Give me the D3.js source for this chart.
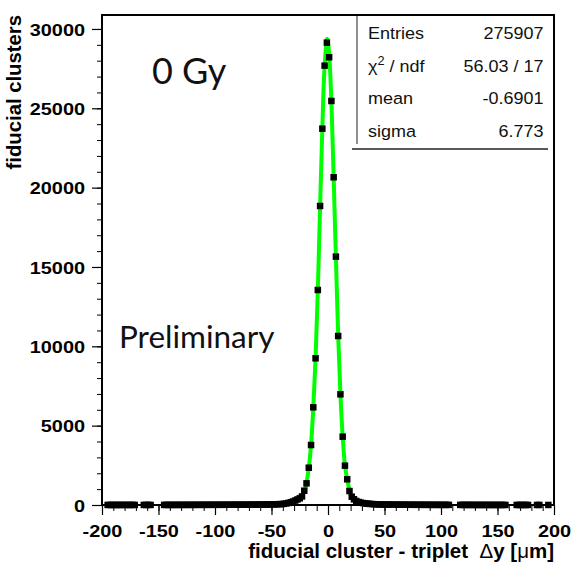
<!DOCTYPE html>
<html>
<head>
<meta charset="utf-8">
<script src="https://cdn.jsdelivr.net/npm/d3@7"></script>
<style>
  html, body { margin: 0; padding: 0; background: #fff; }
  svg { display: block; }
</style>
</head>
<body>
<svg id="chart"></svg>
<script>
// Histogram: 200 bins of 2 um from -200 to 200, counts
const binCenters = d3.range(-199, 200, 2);
const counts = [
  0, 0, 4, 3, 5, 4, 3, 5, 4, 6,
  4, 5, 3, 6, 4, 0, 0, 0, 5, 4,
  6, 5, 0, 0, 0, 0, 0, 6, 7, 5,
  6, 7, 7, 7, 8, 8, 8, 8, 9, 9,
  9, 9, 10, 10, 10, 11, 11, 11, 12, 12,
  12, 12, 13, 13, 14, 14, 15, 15, 16, 16,
  17, 18, 18, 19, 20, 21, 22, 23, 25, 26,
  28, 30, 32, 34, 37, 40, 44, 49, 54, 60,
  75, 100, 130, 170, 220, 280, 350, 420, 540, 900,
  1365, 2350, 3780, 6155, 9245, 13550, 18845, 23716, 27687, 29137,
  28217, 25462, 20653, 15650, 10650, 6975, 4305, 2480, 1620, 880,
  523, 360, 250, 190, 150, 120, 100, 85, 70, 60,
  52, 46, 40, 36, 32, 29, 27, 25, 23, 21,
  20, 19, 18, 17, 16, 15, 15, 14, 13, 13,
  12, 12, 11, 11, 10, 10, 10, 9, 9, 9,
  8, 8, 8, 8, 0, 0, 0, 0, 7, 7,
  7, 6, 6, 6, 6, 5, 5, 5, 5, 5,
  5, 4, 5, 4, 4, 4, 5, 4, 4, 0,
  0, 0, 0, 4, 3, 4, 3, 3, 4, 0,
  0, 0, 3, 4, 0, 0, 0, 3, 0, 0
];

// fitted curve (green), sampled from the plot over the fit range
const fitX = [-20, -19, -17, -15, -13, -11, -9, -7, -5, -3, -0.7, 1, 3, 5, 7, 9, 11, 13, 15, 17, 19, 20];
const fitY = [1050, 1400, 2330, 3800, 6150, 9250, 13550, 18800, 23750, 27650, 29380, 28400, 25450, 20650, 15600, 10700, 7000, 4300, 2500, 1620, 950, 720];

const xTicks = [-200, -150, -100, -50, 0, 50, 100, 150, 200];
const yTicks = [0, 5000, 10000, 15000, 20000, 25000, 30000];

const statLabels = ['Entries', 'chi2', 'mean', 'sigma'];
const statValues = ['275907', '56.03 / 17', '-0.6901', '6.773'];

const W = 577, H = 569;
const LEFT = 102, RIGHT = 554, TOP = 15, BOTTOM = 505;
const ROOT_FONT = '"Liberation Sans", Arial, Helvetica, sans-serif';

const svg = d3.select('#chart').attr('width', W).attr('height', H);

const x = d3.scaleLinear().domain([-200, 200]).range([LEFT, RIGHT]);
const y = d3.scaleLinear().domain([0, 30880]).range([BOTTOM, TOP]);

// plain hyphen like ROOT, not the unicode minus
const fmt = d => String(d);

// minor ticks first
svg.append('g')
  .attr('transform', `translate(0,${BOTTOM})`)
  .call(d3.axisBottom(x).tickValues(d3.range(-200, 201, 10)).tickSize(6).tickFormat(''))
  .call(g => g.select('.domain').remove());
svg.append('g')
  .attr('transform', `translate(${LEFT},0)`)
  .call(d3.axisLeft(y).tickValues(d3.range(0, 30001, 1000)).tickSize(5).tickFormat(''))
  .call(g => g.select('.domain').remove());

// major ticks + labels
const xAxis = svg.append('g')
  .attr('transform', `translate(0,${BOTTOM})`)
  .call(d3.axisBottom(x).tickValues(xTicks).tickSize(10).tickFormat(fmt));
xAxis.select('.domain').remove();
xAxis.selectAll('line').attr('stroke', '#000').attr('stroke-width', 1.2);
xAxis.selectAll('text')
  .attr('y', 0).attr('dy', null)
  .attr('transform', 'translate(0,31.5) scale(1.15,1)')
  .style('font-family', ROOT_FONT).style('font-weight', 'bold').style('font-size', '17.3px')
  .attr('fill', '#000');

const yAxis = svg.append('g')
  .attr('transform', `translate(${LEFT},0)`)
  .call(d3.axisLeft(y).tickValues(yTicks).tickSize(10).tickFormat(fmt));
yAxis.select('.domain').remove();
yAxis.selectAll('line').attr('stroke', '#000').attr('stroke-width', 1.2);
yAxis.selectAll('text')
  .attr('x', 0).attr('dy', '0.36em')
  .attr('transform', 'translate(-17,0) scale(1.15,1)')
  .style('font-family', ROOT_FONT).style('font-weight', 'bold').style('font-size', '17.3px')
  .attr('fill', '#000');

// frame
svg.append('rect')
  .attr('x', LEFT).attr('y', TOP)
  .attr('width', RIGHT - LEFT).attr('height', BOTTOM - TOP)
  .attr('fill', 'none').attr('stroke', '#000').attr('stroke-width', 2);

// fit curve
const line = d3.line()
  .x((d, i) => x(fitX[i]))
  .y(d => y(d))
  .curve(d3.curveCatmullRom.alpha(0.5));
svg.append('path')
  .datum(fitY)
  .attr('d', line)
  .attr('fill', 'none')
  .attr('stroke', '#00ff00')
  .attr('stroke-width', 4);

// markers
const MS = 6.5;
svg.append('g')
  .selectAll('rect')
  .data(binCenters.map((c, i) => ({c, v: counts[i]})).filter(d => d.v > 0))
  .enter()
  .append('rect')
  .attr('x', d => x(d.c) - MS / 2)
  .attr('y', d => y(d.v) - MS / 2)
  .attr('width', MS)
  .attr('height', MS)
  .attr('fill', '#000');

// stats box
const stats = svg.append('g');
stats.append('rect')
  .attr('x', 357).attr('y', TOP).attr('width', RIGHT - 357).attr('height', 130)
  .attr('fill', '#fff');
stats.append('line')
  .attr('x1', 357).attr('x2', 357).attr('y1', TOP).attr('y2', 144)
  .attr('stroke', '#222').attr('stroke-width', 1);
stats.append('line')
  .attr('x1', 352).attr('x2', 548).attr('y1', 149).attr('y2', 149)
  .attr('stroke', '#222').attr('stroke-width', 1.3);
svg.append('line')
  .attr('x1', LEFT).attr('x2', RIGHT).attr('y1', TOP).attr('y2', TOP)
  .attr('stroke', '#000').attr('stroke-width', 2);
svg.append('line')
  .attr('x1', RIGHT).attr('x2', RIGHT).attr('y1', TOP).attr('y2', BOTTOM)
  .attr('stroke', '#000').attr('stroke-width', 2);

const rowY = [39, 72, 104, 137];
statLabels.forEach((lab, i) => {
  const t = stats.append('text')
    .attr('transform', `translate(368,${rowY[i]}) scale(1.06,1)`)
    .style('font-family', ROOT_FONT).style('font-size', '17px').attr('fill', '#111');
  if (lab === 'chi2') {
    t.append('tspan').text('\u03C7');
    t.append('tspan').attr('dy', -7).style('font-size', '12px').text('2');
    t.append('tspan').attr('dy', 7).text(' / ndf');
  } else {
    t.text(lab);
  }
  stats.append('text')
    .attr('transform', `translate(543.5,${rowY[i]}) scale(1.06,1)`)
    .attr('text-anchor', 'end')
    .style('font-family', ROOT_FONT).style('font-size', '17px').attr('fill', '#111')
    .text(statValues[i]);
});

// axis titles
const xTitle = svg.append('text')
  .attr('x', RIGHT).attr('y', 558)
  .attr('text-anchor', 'end')
  .style('white-space', 'pre')
  .style('font-family', ROOT_FONT).style('font-weight', 'bold').style('font-size', '20.5px');
xTitle.append('tspan').text('fiducial cluster - triplet \u00A0');
xTitle.append('tspan').style('font-weight', 'normal').text('\u0394');
xTitle.append('tspan').text('y [');
xTitle.append('tspan').style('font-weight', 'normal').text('\u03BC');
xTitle.append('tspan').text('m]');

svg.append('text')
  .attr('transform', 'translate(20.5,15) rotate(-90)')
  .attr('text-anchor', 'end')
  .style('font-family', ROOT_FONT).style('font-weight', 'bold').style('font-size', '20.3px')
  .text('fiducial clusters');

// annotations
svg.append('text')
  .attr('x', 152).attr('y', 84)
  .style('font-family', 'Lato, "Open Sans", sans-serif').style('font-size', '36px')
  .attr('fill', '#111')
  .text('0 Gy');
svg.append('text')
  .attr('x', 119).attr('y', 348)
  .style('font-family', 'Lato, "Open Sans", sans-serif').style('font-size', '31.5px')
  .attr('fill', '#111')
  .text('Preliminary');
</script>
</body>
</html>
